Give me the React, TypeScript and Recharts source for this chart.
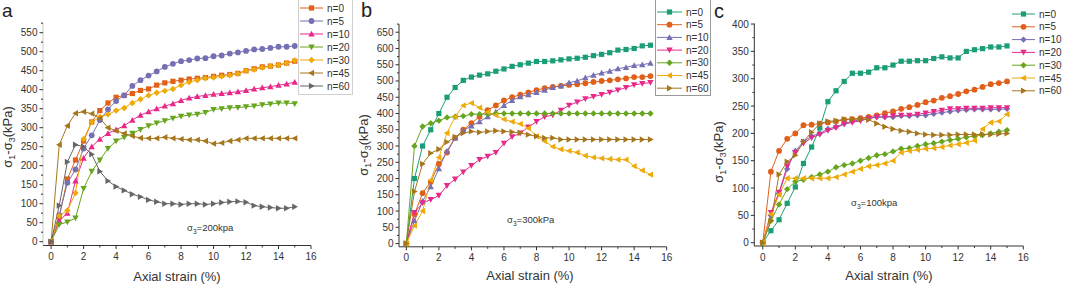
import React from "react";
import { LineChart, Line, XAxis, YAxis, Legend } from "recharts";

// axial strain (%) sampled every 0.5
const strain = [0, 0.5, 1, 1.5, 2, 2.5, 3, 3.5, 4, 4.5, 5, 5.5, 6, 6.5, 7, 7.5, 8, 8.5, 9, 9.5, 10, 10.5, 11, 11.5, 12, 12.5, 13, 13.5, 14, 14.5, 15];

const names = ["n=0", "n=5", "n=10", "n=20", "n=30", "n=45", "n=60"];

// panel a, sigma3 = 200 kPa
const a0 = [0, 65, 165, 215, 265, 315, 345, 365, 380, 385, 390, 398, 402, 412, 418, 422, 425, 428, 430, 432, 435, 438, 440, 443, 450, 455, 460, 462, 465, 470, 475];
const a5 = [0, 70, 155, 190, 245, 280, 320, 348, 370, 385, 410, 425, 437, 448, 460, 468, 475, 478, 482, 483, 488, 490, 495, 498, 502, 506, 507, 510, 513, 513, 515];
const a10 = [0, 55, 75, 160, 220, 250, 270, 285, 295, 305, 320, 333, 342, 350, 357, 363, 372, 378, 382, 385, 388, 390, 392, 395, 398, 402, 405, 408, 412, 415, 420];
const a20 = [0, 45, 52, 62, 140, 185, 215, 245, 265, 275, 285, 295, 305, 312, 318, 325, 330, 333, 335, 340, 348, 350, 352, 353, 355, 357, 360, 362, 365, 365, 363];
const a30 = [0, 68, 82, 128, 270, 315, 328, 335, 345, 352, 365, 375, 385, 392, 397, 402, 412, 420, 425, 430, 432, 435, 438, 442, 450, 453, 458, 462, 465, 470, 477];
const a45 = [0, 255, 305, 338, 342, 337, 325, 300, 292, 285, 278, 273, 272, 272, 275, 272, 270, 268, 268, 265, 258, 260, 265, 268, 272, 272, 272, 272, 272, 272, 272];
const a60 = [0, 95, 210, 255, 250, 230, 185, 160, 145, 135, 125, 118, 110, 105, 100, 100, 98, 100, 100, 98, 100, 103, 105, 106, 104, 95, 92, 90, 88, 88, 92];

// panel b, sigma3 = 300 kPa
const b0 = [0, 200, 300, 350, 400, 450, 480, 502, 512, 518, 522, 530, 537, 545, 550, 555, 560, 560, 562, 565, 568, 570, 573, 578, 582, 587, 595, 597, 600, 608, 610];
const b5 = [0, 90, 155, 190, 245, 280, 325, 350, 370, 390, 410, 425, 440, 450, 458, 465, 472, 478, 482, 485, 488, 490, 493, 497, 500, 502, 505, 508, 512, 512, 515];
const b10 = [0, 70, 130, 175, 230, 285, 325, 348, 362, 375, 390, 405, 425, 440, 452, 458, 465, 472, 480, 485, 495, 500, 510, 518, 525, 530, 538, 542, 548, 550, 555];
const b20 = [0, 95, 125, 135, 148, 178, 198, 220, 240, 258, 268, 280, 308, 328, 340, 358, 375, 390, 395, 410, 425, 435, 445, 452, 458, 465, 472, 480, 488, 492, 495];
const b30 = [0, 300, 360, 370, 378, 388, 390, 392, 398, 398, 398, 400, 400, 400, 400, 400, 400, 400, 400, 400, 400, 400, 400, 400, 400, 400, 400, 400, 400, 400, 400];
const b45 = [0, 55, 100, 195, 265, 340, 390, 425, 432, 418, 405, 395, 382, 375, 368, 355, 330, 315, 298, 290, 285, 280, 270, 265, 262, 260, 258, 258, 238, 225, 212];
const b60 = [0, 160, 245, 278, 290, 312, 328, 340, 345, 342, 345, 347, 345, 343, 340, 335, 330, 325, 325, 320, 320, 320, 320, 320, 320, 320, 320, 320, 320, 320, 320];

// panel c, sigma3 = 100 kPa
const c0 = [0, 22, 42, 72, 102, 145, 175, 210, 258, 278, 295, 310, 310, 312, 320, 320, 325, 332, 332, 333, 333, 337, 340, 338, 338, 350, 353, 355, 358, 358, 360];
const c5 = [0, 130, 168, 190, 200, 215, 216, 218, 220, 222, 225, 226, 228, 230, 233, 237, 240, 245, 248, 252, 257, 260, 265, 268, 272, 277, 280, 285, 290, 292, 295];
const c10 = [0, 50, 90, 135, 168, 185, 195, 200, 208, 212, 218, 222, 225, 228, 230, 230, 230, 232, 232, 233, 233, 236, 238, 240, 242, 243, 244, 244, 244, 244, 245];
const c20 = [0, 55, 92, 140, 165, 182, 192, 198, 205, 210, 217, 220, 223, 227, 230, 230, 232, 233, 233, 235, 237, 240, 242, 245, 245, 246, 246, 246, 247, 247, 247];
const c30 = [0, 40, 70, 98, 112, 115, 120, 125, 130, 138, 142, 145, 150, 155, 160, 162, 167, 172, 173, 177, 180, 182, 185, 188, 190, 193, 195, 197, 200, 203, 206];
const c45 = [0, 52, 88, 118, 118, 118, 118, 118, 118, 120, 125, 130, 135, 140, 142, 145, 150, 165, 168, 170, 172, 173, 175, 178, 180, 183, 187, 208, 220, 222, 235];
const c60 = [0, 40, 125, 148, 160, 185, 202, 218, 222, 223, 226, 226, 226, 225, 218, 212, 208, 205, 203, 200, 198, 197, 197, 197, 198, 198, 198, 198, 198, 199, 200];

const xTicks = [0, 1, 2, 3, 4, 5, 6, 7, 8, 9, 10, 11, 12, 13, 14, 15, 16];
const yTicksA = [0, 25, 50, 75, 100, 125, 150, 175, 200, 225, 250, 275, 300, 325, 350, 375, 400, 425, 450, 475, 500, 525, 550, 575];
const yTicksB = [0, 25, 50, 75, 100, 125, 150, 175, 200, 225, 250, 275, 300, 325, 350, 375, 400, 425, 450, 475, 500, 525, 550, 575, 600, 625, 650, 675];
const yTicksC = [0, 25, 50, 75, 100, 125, 150, 175, 200, 225, 250, 275, 300, 325, 350, 375, 400];

type Shape = "square" | "circle" | "up" | "down" | "diamond" | "left" | "right";

const TEAL = "#1b9e77";
const ORANGE = "#e0601a";
const PURPLE = "#7570b3";
const PINK = "#e7298a";
const GREEN = "#66a61e";
const YELLOW = "#eeaa08";
const BROWN = "#a6761d";
const GREY = "#666666";

const FONT = "'Liberation Sans', Arial, sans-serif";
const INK = "#333";

function Marker({ cx, cy, shape, color }: { cx: number; cy: number; shape: Shape; color: string }) {
  if (cx == null || cy == null) return null;
  const r = 3.2;
  switch (shape) {
    case "square":
      return <rect x={cx - 2.6} y={cy - 2.6} width={5.2} height={5.2} fill={color} />;
    case "circle":
      return <circle cx={cx} cy={cy} r={2.9} fill={color} />;
    case "up":
      return <polygon points={`${cx},${cy - r} ${cx + r},${cy + r * 0.8} ${cx - r},${cy + r * 0.8}`} fill={color} />;
    case "down":
      return <polygon points={`${cx},${cy + r} ${cx + r},${cy - r * 0.8} ${cx - r},${cy - r * 0.8}`} fill={color} />;
    case "diamond":
      return <polygon points={`${cx},${cy - r} ${cx + r},${cy} ${cx},${cy + r} ${cx - r},${cy}`} fill={color} />;
    case "left":
      return <polygon points={`${cx - r},${cy} ${cx + r * 0.8},${cy - r} ${cx + r * 0.8},${cy + r}`} fill={color} />;
    case "right":
      return <polygon points={`${cx + r},${cy} ${cx - r * 0.8},${cy - r} ${cx - r * 0.8},${cy + r}`} fill={color} />;
  }
  return null;
}

interface Series {
  key: string;
  name: string;
  values: number[];
  color: string;
  shape: Shape;
}

interface PanelProps {
  left: number;
  width: number;
  plotLeft: number;
  plotRight: number;
  plotTop: number;
  plotBottom: number;
  xMin: number;
  yDomain: [number, number];
  yTicks: number[];
  yAxisColor: string;
  series: Series[];
  legend: { x: number; w: number; h: number; y0: number; step: number; line: number; box?: string };
}

function makeSeries(values: number[][], colors: string[], shapes: Shape[]): Series[] {
  return values.map((v, i) => ({ key: "s" + i, name: names[i], values: v, color: colors[i], shape: shapes[i] }));
}

const shapesAB: Shape[] = ["square", "circle", "up", "down", "diamond", "left", "right"];
const shapesC: Shape[] = ["square", "circle", "diamond", "down", "diamond", "left", "right"];

const seriesA = makeSeries([a0, a5, a10, a20, a30, a45, a60], [ORANGE, PURPLE, PINK, GREEN, YELLOW, BROWN, GREY], shapesAB);
const seriesB = makeSeries([b0, b5, b10, b20, b30, b45, b60], [TEAL, ORANGE, PURPLE, PINK, GREEN, YELLOW, BROWN], shapesAB);
const seriesC = makeSeries([c0, c5, c10, c20, c30, c45, c60], [TEAL, ORANGE, PURPLE, PINK, GREEN, YELLOW, BROWN], shapesC);

const XTick = (props: any) => {
  const { x, y, payload } = props;
  const major = payload.value % 2 === 0;
  return (
    <g>
      <line x1={x} x2={x} y1={y} y2={y + (major ? 3.5 : 2)} stroke={INK} strokeWidth={1} />
      {major && (
        <text x={x} y={y + 14.5} textAnchor="middle" fontSize={10} fontFamily={FONT} fill={INK}>
          {payload.value}
        </text>
      )}
    </g>
  );
};

const YTick = (props: any) => {
  const { x, y, payload } = props;
  const major = payload.value % 50 === 0;
  return (
    <g>
      <line x1={x} x2={x - (major ? 3.5 : 2)} y1={y} y2={y} stroke={INK} strokeWidth={1} />
      {major && (
        <text x={x - 5.5} y={y + 3.5} textAnchor="end" fontSize={10} fontFamily={FONT} fill={INK}>
          {payload.value}
        </text>
      )}
    </g>
  );
};

function Panel(p: PanelProps) {
  const rows = strain.map((s, i) => {
    const row: any = { s };
    p.series.forEach((se) => (row[se.key] = se.values[i]));
    return row;
  });
  const lg = p.legend;
  const renderLegend = (props: any) => {
    const items: any[] = props.payload || [];
    // keep the series order (n=0 ... n=60), not the alphabetical one
    const ordered = p.series.map((se) => ({ se, item: items.find((it) => it.dataKey === se.key) }));
    return (
      <svg width={lg.w} height={lg.h} style={{ display: "block" }}>
        {lg.box && <rect x={0.5} y={-2} width={lg.w - 1} height={lg.h + 1.5} fill="#fff" stroke={lg.box} />}
        {ordered.map(({ se, item }, i) => {
          const y = lg.y0 + i * lg.step;
          const color = item?.color || se.color;
          return (
            <g key={se.key}>
              <line x1={2} x2={2 + lg.line} y1={y} y2={y} stroke={color} strokeWidth={1} />
              <Marker cx={2 + lg.line / 2} cy={y} shape={se.shape} color={color} />
              <text x={lg.line + 6} y={y + 3.5} fontSize={10} fontFamily={FONT} fill={INK}>
                {item?.value ?? se.name}
              </text>
            </g>
          );
        })}
      </svg>
    );
  };
  return (
    <div style={{ position: "absolute", left: p.left, top: 0 }}>
      <LineChart
        width={p.width}
        height={286}
        data={rows}
        margin={{ top: p.plotTop, right: p.left + p.width - p.plotRight, bottom: 0, left: 0 }}
      >
        <XAxis
          dataKey="s"
          type="number"
          domain={[p.xMin, 16]}
          ticks={xTicks}
          interval={0}
          tickSize={0}
          tickMargin={0}
          tick={<XTick />}
          height={286 - p.plotBottom}
          axisLine={{ stroke: INK, strokeWidth: 1 }}
          allowDataOverflow
        />
        <YAxis
          type="number"
          domain={p.yDomain}
          ticks={p.yTicks}
          interval={0}
          tickSize={0}
          tickMargin={0}
          tick={<YTick />}
          width={p.plotLeft - p.left}
          axisLine={{ stroke: p.yAxisColor, strokeWidth: 1 }}
          allowDataOverflow
        />
        <Legend
          layout="vertical"
          align="center"
          verticalAlign="middle"
          content={renderLegend}
          wrapperStyle={{ left: lg.x - p.left, top: 0, width: lg.w, height: lg.h }}
        />
        {p.series.map((se) => (
          <Line
            key={se.key}
            dataKey={se.key}
            name={se.name}
            stroke={se.color}
            strokeWidth={1}
            isAnimationActive={false}
            dot={(d: any) => <Marker key={se.key + "-" + d.index} cx={d.cx} cy={d.cy} shape={se.shape} color={se.color} />}
            activeDot={false}
          />
        ))}
      </LineChart>
    </div>
  );
}

function Sigma({ x, y, sub, rest, size }: { x: number; y: number; sub: string; rest: string; size: number }) {
  return (
    <text x={x} y={y} fontSize={size} fontFamily={FONT} fill={INK}>
      σ
      <tspan fontSize={size * 0.7} dy={2.5}>
        {sub}
      </tspan>
      <tspan dy={-2.5}>{rest}</tspan>
    </text>
  );
}

function YTitle({ x, y }: { x: number; y: number }) {
  return (
    <text
      x={x}
      y={y}
      transform={`rotate(-90 ${x} ${y})`}
      textAnchor="middle"
      fontSize={13}
      fontFamily={FONT}
      fill={INK}
    >
      σ<tspan fontSize={9} dy={3}>1</tspan>
      <tspan dy={-3}>-σ</tspan>
      <tspan fontSize={9} dy={3}>3</tspan>
      <tspan dy={-3}>(kPa)</tspan>
    </text>
  );
}

export default function App() {
  return (
    <div style={{ position: "absolute", left: 0, top: 0, width: 1065, height: 286, background: "#fff", overflow: "hidden" }}>
      <Panel
        left={0}
        width={360}
        plotLeft={43}
        plotRight={311}
        plotTop={22.8}
        plotBottom={245.5}
        xMin={-0.5}
        yDomain={[-10, 576]}
        yTicks={yTicksA}
        yAxisColor="#c8c8c8"
        series={seriesA}
        legend={{ x: 298, w: 55, h: 95, y0: 8, step: 13, line: 23, box: "#d0d0d0" }}
      />
      <Panel
        left={360}
        width={360}
        plotLeft={399}
        plotRight={666.7}
        plotTop={24.1}
        plotBottom={246.8}
        xMin={-0.45}
        yDomain={[-10, 675]}
        yTicks={yTicksB}
        yAxisColor={INK}
        series={seriesB}
        legend={{ x: 655, w: 56, h: 96, y0: 12, step: 12.7, line: 25, box: "#999" }}
      />
      <Panel
        left={720}
        width={345}
        plotLeft={754.3}
        plotRight={1023.3}
        plotTop={23.5}
        plotBottom={246}
        xMin={-0.52}
        yDomain={[-6, 401]}
        yTicks={yTicksC}
        yAxisColor={INK}
        series={seriesC}
        legend={{ x: 1010, w: 55, h: 98, y0: 14, step: 12.8, line: 23 }}
      />
      <svg
        width={1065}
        height={286}
        style={{ position: "absolute", left: 0, top: 0, pointerEvents: "none" }}
      >
        <text x={2} y={16.5} fontSize={19} fontFamily={FONT} fill="#222">a</text>
        <text x={361} y={17} fontSize={20} fontFamily={FONT} fill="#222">b</text>
        <text x={714} y={18} fontSize={20} fontFamily={FONT} fill="#222">c</text>
        <YTitle x={12} y={137} />
        <YTitle x={368} y={145} />
        <YTitle x={723} y={152} />
        <text x={177} y={281} textAnchor="middle" fontSize={13} fontFamily={FONT} fill={INK}>Axial strain (%)</text>
        <text x={530} y={280} textAnchor="middle" fontSize={13} fontFamily={FONT} fill={INK}>Axial strain (%)</text>
        <text x={889} y={280} textAnchor="middle" fontSize={13} fontFamily={FONT} fill={INK}>Axial strain (%)</text>
        <Sigma x={187} y={231} sub="3" rest="=200kpa" size={9.5} />
        <Sigma x={507} y={223} sub="3" rest="=300kPa" size={9.5} />
        <Sigma x={851} y={206} sub="3" rest="=100kpa" size={9.5} />
      </svg>
    </div>
  );
}
